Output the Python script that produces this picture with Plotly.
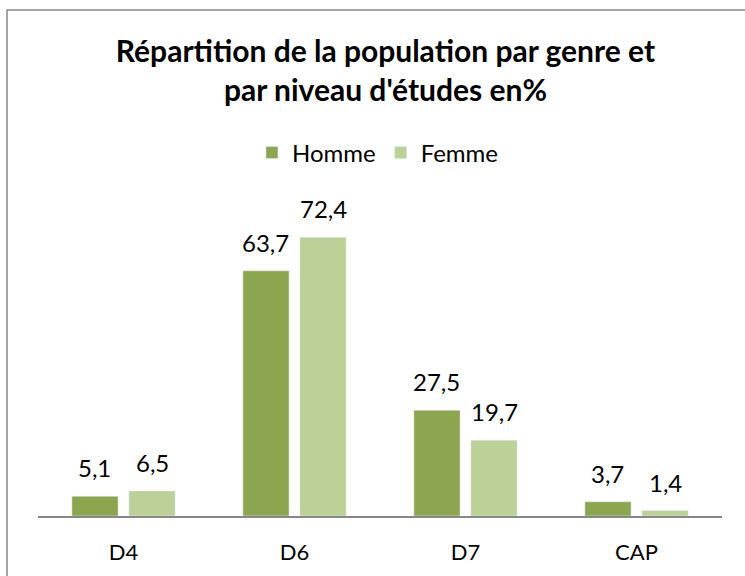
import plotly.graph_objects as go

categories = ["D4", "D6", "D7", "CAP"]
homme = [5.1, 63.7, 27.5, 3.7]
femme = [6.5, 72.4, 19.7, 1.4]
series_names = ["Homme", "Femme"]
title_text = "Répartition de la population par genre et<br>par niveau d'études en%"

W, H = 745, 576
ML, MR, MT, MB = 38, 23, 190, 60
YMAX = 84.7
BARGAP = 0.333
BARGROUPGAP = 0.19
COL_H = "#8CA64F"
COL_F = "#BCD098"
FONT = "Lato"

def fmt(v):
    return f"{v:.1f}".replace(".", ",")

fig = go.Figure()
fig.add_trace(go.Bar(name=series_names[0], x=categories, y=homme, marker=dict(color=COL_H)))
fig.add_trace(go.Bar(name=series_names[1], x=categories, y=femme, marker=dict(color=COL_F)))

plot_w = W - ML - MR
plot_h = H - MT - MB
cat_px = plot_w / len(categories)
slot = cat_px * (1 - BARGAP) / 2
annos = []
for vals, sgn in ((homme, -1), (femme, 1)):
    for c, v in zip(categories, vals):
        annos.append(dict(x=c, y=v, xref="x", yref="y", text=fmt(v), showarrow=False,
                          xshift=sgn * slot / 2, yshift=12, yanchor="bottom",
                          font=dict(family=FONT, size=24, color="#000000")))

# chart border (outer frame, extends past right and bottom edges)
shapes = [dict(type="rect", xref="paper", yref="paper",
               x0=(7 - ML) / plot_w, x1=(780 - ML) / plot_w,
               y0=(H - MB - 600) / plot_h, y1=(H - MB - 10) / plot_h,
               line=dict(color="#888888", width=1.5), fillcolor="rgba(0,0,0,0)", layer="below")]

fig.update_layout(
    width=W, height=H,
    margin=dict(l=ML, r=MR, t=MT, b=MB),
    paper_bgcolor="white", plot_bgcolor="white",
    barmode="group", bargap=BARGAP, bargroupgap=BARGROUPGAP,
    title=dict(text=title_text, x=0.508, xref="paper", xanchor="center",
               y=1 - 62 / H, yref="container", yanchor="middle",
               font=dict(family=FONT, size=30, color="#000000", weight="bold")),
    legend=dict(orientation="h", x=0.497, xanchor="center", y=(H - MB - 153) / plot_h,
                yanchor="middle", font=dict(family=FONT, size=24, color="#000000"),
                itemwidth=30, bgcolor="rgba(0,0,0,0)"),
    xaxis=dict(showline=True, linecolor="#888888", linewidth=1.5, showgrid=False,
               ticks="", tickfont=dict(family=FONT, size=22, color="#000000"), ticklabelstandoff=16),
    yaxis=dict(range=[0, YMAX], visible=False, showgrid=False, zeroline=False),
    annotations=annos,
    shapes=shapes,
    showlegend=True,
)

fig.write_html("out.html", config={"displayModeBar": False},
               post_script="document.body.style.margin='0';")
